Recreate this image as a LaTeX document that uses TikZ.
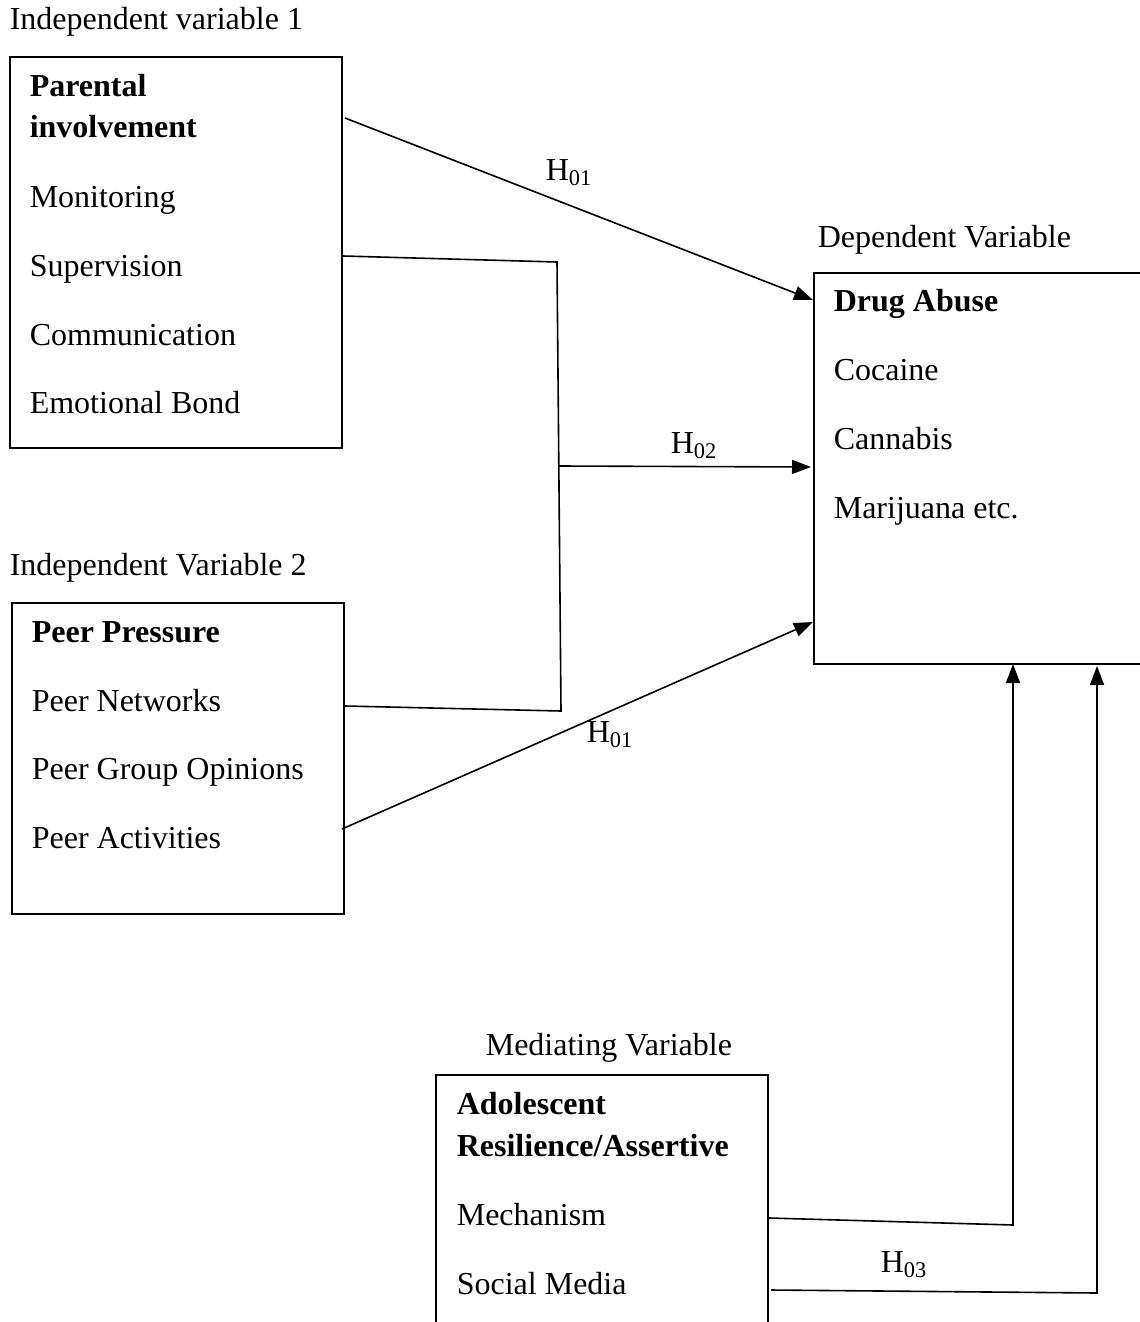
\documentclass[tikz,border=0pt]{standalone}
\usepackage{fontspec}
\setmainfont{Liberation Serif}
\usetikzlibrary{arrows.meta}

\begin{document}
\begin{tikzpicture}[x=0.5pt,y=-0.5pt,line width=0.8pt]
    \tikzset{txt/.style={anchor=base west,inner sep=0pt,font=\fontsize{16}{19}\selectfont},
             hd/.style={txt,font=\fontsize{16}{19}\selectfont\bfseries},
             box/.style 2 args={draw,line width=1pt,anchor=north west,inner sep=0pt,minimum width=#1,minimum height=#2},
             hyp/.style={-{Triangle[length=9.5pt,width=7pt]}}};
    \useasboundingbox (0,0) rectangle (1140,1322);
    \clip (0,0) rectangle (1140,1322);

    % boxes
    \node[box={166pt}{195.5pt}] (pi) at (9,56) {};
    \node[box={166pt}{155.5pt}] (pp) at (11,602) {};
    \node[box={175pt}{195.5pt}] (da) at (813,272) {};
    \node[box={166pt}{140pt}] (ar) at (435,1074) {};

    % headings
    \node[txt] (iv1) at (9,30) {Independent variable 1};
    \node[txt] (iv2) at (9,575) {Independent Variable 2};
    \node[txt] (dv) at (817,247) {Dependent Variable};
    \node[txt] (mv) at (485,1055) {Mediating Variable};

    % box texts
    \node[hd] (pi1) at (29,97) {Parental};
    \node[hd] (pi2) at (29,138) {involvement};
    \node[txt] (pi3) at (29,207) {Monitoring};
    \node[txt] (pi4) at (29,276) {Supervision};
    \node[txt] (pi5) at (29,345) {Communication};
    \node[txt] (pi6) at (29,413) {Emotional Bond};

    \node[hd] (pp1) at (31,642) {Peer Pressure};
    \node[txt] (pp2) at (31,711) {Peer Networks};
    \node[txt] (pp3) at (31,779) {Peer Group Opinions};
    \node[txt] (pp4) at (31,848) {Peer Activities};

    \node[hd] (da1) at (833,311) {Drug Abuse};
    \node[txt] (da2) at (833,380) {Cocaine};
    \node[txt] (da3) at (833,449) {Cannabis};
    \node[txt] (da4) at (833,518) {Marijuana etc.};

    \node[hd] (ar1) at (456,1114) {Adolescent};
    \node[hd] (ar2) at (456,1156) {Resilience/Assertive};
    \node[txt] (ar3) at (456,1225) {Mechanism};
    \node[txt] (ar4) at (456,1294) {Social Media};

    % connector ends
    \coordinate (a1) at (345,118);
    \coordinate (b1) at (813,300);
    \coordinate (j1) at (343,256);
    \coordinate (j2) at (557,262);
    \coordinate (j3) at (561,711);
    \coordinate (j4) at (345,706);
    \coordinate (j5) at (559,466);
    \coordinate (b2) at (811,467);
    \coordinate (a3) at (342,829);
    \coordinate (b3) at (813,622);
    \coordinate (m1) at (769,1218);
    \coordinate (m2) at (1013,1225);
    \coordinate (b4) at (1013,664);
    \coordinate (m3) at (771,1290);
    \coordinate (m4) at (1097,1293);
    \coordinate (b5) at (1097,666);

    \draw[hyp] (a1)--(b1);
    \draw[] (j1)--(j2)--(j3)--(j4);
    \draw[hyp] (j5)--(b2);
    \draw[hyp] (a3)--(b3);
    \draw[hyp] (m1)--(m2)--(b4);
    \draw[hyp] (m3)--(m4)--(b5);

    % hypotheses
    \node[txt] (h1) at (545,180) {H\textsubscript{01}};
    \node[txt] (h2) at (670,453) {H\textsubscript{02}};
    \node[txt] (h3) at (586,742) {H\textsubscript{01}};
    \node[txt] (h4) at (880,1272) {H\textsubscript{03}};
\end{tikzpicture}
\end{document}
